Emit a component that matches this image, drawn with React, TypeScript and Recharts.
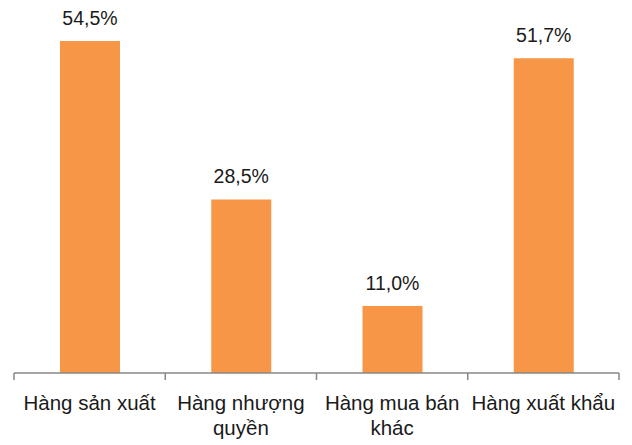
import { Bar, BarChart, LabelList, XAxis, YAxis } from 'recharts';

const categories = ['Hàng sản xuất', 'Hàng nhượng\nquyền', 'Hàng mua bán\nkhác', 'Hàng xuất khẩu'];
const shares = [54.5, 28.5, 11.0, 51.7];

const data = categories.map((name, i) => ({ name, value: shares[i] }));

const FONT = '"Liberation Sans", Arial, sans-serif';
const AXIS = '#878787';

// axis label plus the boundary tick marks between categories
function CategoryTick({ x, y, payload, index, visibleTicksCount }: any) {
  const lines = String(payload.value).split('\n');
  const half = payload.offset || 151.25 / 2;
  const isLast = index === (visibleTicksCount ?? categories.length) - 1;
  return (
    <g>
      <line x1={x - half} x2={x - half} y1={y} y2={y + 7} stroke={AXIS} strokeWidth={1.5} />
      {isLast && <line x1={x + half} x2={x + half} y1={y} y2={y + 7} stroke={AXIS} strokeWidth={1.5} />}
      <text x={x} y={y} textAnchor="middle" fill="#1a1a1a" fontSize={20.5} fontFamily={FONT}>
        {lines.map((line, i) => (
          <tspan key={i} x={x} dy={i === 0 ? 37 : 25}>
            {line}
          </tspan>
        ))}
      </text>
    </g>
  );
}

export default function App() {
  return (
    <div style={{ position: 'absolute', left: 0, top: 0, width: 632, height: 445, background: '#fff' }}>
      <BarChart
        width={632}
        height={445}
        data={data}
        margin={{ top: 7.6, right: 13, bottom: 0, left: 14 }}
        barSize={60}
      >
        <XAxis
          dataKey="name"
          type="category"
          height={72}
          axisLine={{ stroke: AXIS, strokeWidth: 1.5 }}
          tickLine={false}
          tickSize={0}
          tickMargin={0}
          interval={0}
          tick={<CategoryTick />}
        />
        <YAxis hide domain={[0, 60]} />
        <Bar dataKey="value" fill="#F79646" isAnimationActive={false}>
          <LabelList
            dataKey="value"
            position="top"
            offset={16}
            fill="#1a1a1a"
            fontSize={19.5}
            fontFamily={FONT}
            formatter={(v: any) => `${Number(v).toFixed(1).replace('.', ',')}%`}
          />
        </Bar>
      </BarChart>
    </div>
  );
}
